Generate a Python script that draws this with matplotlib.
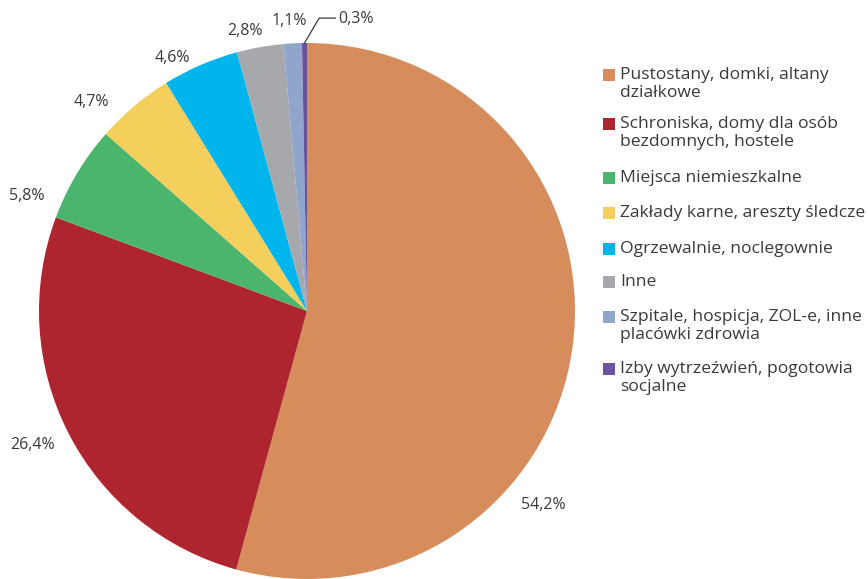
import numpy as np
import matplotlib
matplotlib.use("Agg")
import matplotlib.pyplot as plt
from matplotlib.patches import Rectangle

categories = [
    "Pustostany, domki, altany\ndziałkowe",
    "Schroniska, domy dla osób\nbezdomnych, hostele",
    "Miejsca niemieszkalne",
    "Zakłady karne, areszty śledcze",
    "Ogrzewalnie, noclegownie",
    "Inne",
    "Szpitale, hospicja, ZOL-e, inne\nplacówki zdrowia",
    "Izby wytrzeźwień, pogotowia\nsocjalne",
]
shares = [54.2, 26.4, 5.8, 4.7, 4.6, 2.8, 1.1, 0.3]
pct_labels = ["54,2%", "26,4%", "5,8%", "4,7%", "4,6%", "2,8%", "1,1%", "0,3%"]

colors = ["#D68D5B", "#AE252F", "#4BB56E", "#F5CF5B",
          "#00B5EC", "#A6A8AB", "#8FA5CC", "#6A53A0"]

# label placement (angle in degrees, distance in pie radii)
label_angles = [-39.4, 206.0, 157.6, 136.0, 118.0, 102.4, 93.5]
label_radii = [1.14, 1.14, 1.13, 1.12, 1.07, 1.07, 1.085]

plt.rcParams['font.family'] = ['Open Sans', 'DejaVu Sans']
text_color = "#3a3a3a"

W, H = 868, 579
fig = plt.figure(figsize=(W / 100, H / 100), dpi=100)
cx, cy, R = 307, 311, 268
ax = fig.add_axes([(cx - R) / W, (H - cy - R) / H, 2 * R / W, 2 * R / H])

wedges, _ = ax.pie(shares, colors=colors, startangle=90, counterclock=False,
                   radius=1, wedgeprops=dict(linewidth=0))
ax.set_xlim(-1, 1)
ax.set_ylim(-1, 1)
ax.set_aspect("equal")
ax.axis("off")

for lab, ang, r in zip(pct_labels[:-1], label_angles, label_radii):
    a = np.deg2rad(ang)
    ax.text(r * np.cos(a), r * np.sin(a), lab, ha="center", va="center",
            fontsize=11.5, color=text_color)

# smallest slice: leader line
w = wedges[-1]
mid = np.deg2rad((w.theta1 + w.theta2) / 2)
p0 = (np.cos(mid), np.sin(mid))
elbow = (p0[0] + 0.055, 1.093)
end = (elbow[0] + 0.06, 1.093)
ax.plot([p0[0], elbow[0], end[0]], [p0[1], elbow[1], end[1]],
        color=text_color, lw=0.9, clip_on=False)
ax.text(end[0] + 0.01, end[1] - 0.005, pct_labels[-1], ha="left", va="center",
        fontsize=11.5, color=text_color)

# legend
legend_y = [75, 124, 178, 213, 249, 282, 317, 369]
sq = 12
for lab, col, y in zip(categories, colors, legend_y):
    fig.add_artist(Rectangle((603 / W, (H - y - sq / 2) / H), sq / W, sq / H,
                             transform=fig.transFigure, facecolor=col,
                             edgecolor="none"))
    fig.text(620 / W, (H - y + 8) / H, lab, ha="left", va="top",
             fontsize=12.6, color=text_color, linespacing=1.2)

fig.savefig("out.png", dpi=100)
